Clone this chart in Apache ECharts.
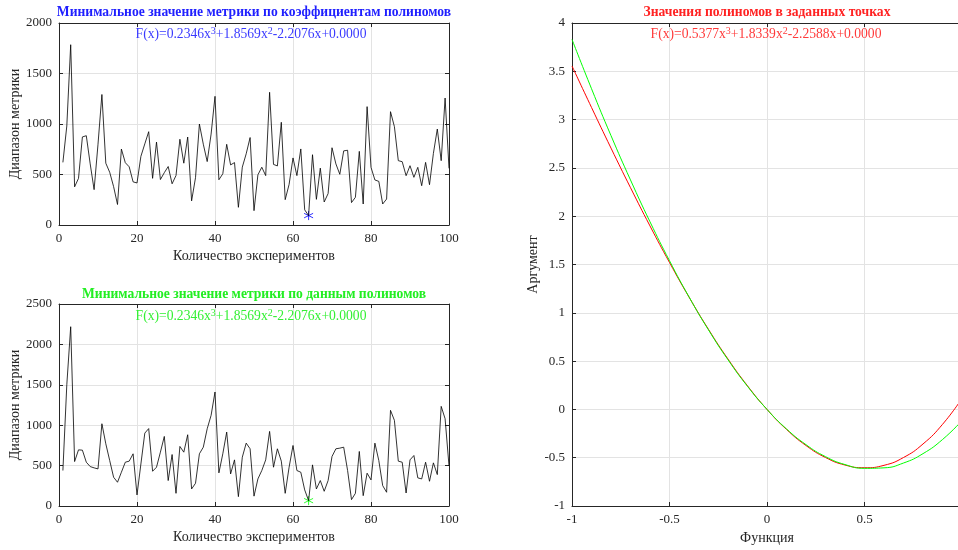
<!DOCTYPE html>
<html>
<head>
<meta charset="utf-8">
<script src="https://cdn.jsdelivr.net/npm/echarts@6/dist/echarts.min.js"></script>
<style>
  html, body { margin: 0; padding: 0; background: #fff; }
  #chart { width: 958px; height: 550px; }
</style>
</head>
<body>
<div id="chart"></div>
<script>
// метрика по коэффициентам полиномов (эксперименты 1..100)
const coefMetric = [
  620, 980, 1785, 378, 462, 872, 884, 605, 350, 800,
  1292, 612, 522, 380, 203, 752, 617, 576, 427, 416,
  680, 803, 924, 462, 821, 450, 518, 579, 408, 490,
  849, 612, 871, 239, 468, 1000, 800, 628, 900, 1274,
  448, 507, 799, 595, 618, 175, 573, 705, 866, 142,
  497, 572, 489, 1314, 600, 585, 1017, 251, 402, 664,
  489, 753, 150, 93, 696, 254, 563, 228, 311, 765,
  605, 502, 734, 740, 222, 274, 729, 208, 1172, 571,
  446, 432, 208, 257, 1122, 974, 637, 627, 488, 587,
  472, 571, 389, 620, 399, 709, 950, 637, 1257, 561
];

// метрика по данным полиномов
const dataMetric = [
  439, 1500, 2219, 550, 695, 691, 542, 488, 472, 459,
  1018, 770, 563, 356, 294, 418, 542, 555, 646, 137,
  520, 902, 958, 430, 480, 666, 861, 315, 637, 157,
  737, 666, 882, 211, 281, 646, 728, 956, 1122, 1411,
  410, 646, 915, 397, 571, 116, 604, 778, 708, 122,
  335, 439, 571, 923, 480, 708, 555, 157, 480, 749,
  439, 418, 199, 66, 509, 211, 315, 182, 315, 613,
  708, 716, 728, 439, 79, 157, 675, 128, 406, 323,
  778, 563, 252, 170, 1184, 1060, 555, 542, 161, 571,
  625, 348, 335, 542, 306, 534, 389, 1233, 1080, 497
];

const bestCoef = [64, 93];
const bestData = [64, 66];

// значения полиномов в заданных точках
const argX = [-1, -0.9, -0.8, -0.7, -0.6, -0.5, -0.4, -0.3, -0.2, -0.1, 0,
  0.1, 0.2, 0.3, 0.4, 0.5, 0.6, 0.7, 0.8, 0.9, 1];
const redY = [3.555, 3.126, 2.705, 2.295, 1.899, 1.521, 1.163, 0.828, 0.521, 0.244, 0,
  -0.207, -0.374, -0.498, -0.576, -0.604, -0.579, -0.498, -0.358, -0.155, 0.113];
const greenY = [3.830, 3.320, 2.834, 2.375, 1.942, 1.539, 1.165, 0.823, 0.514, 0.239, 0,
  -0.202, -0.365, -0.489, -0.571, -0.610, -0.605, -0.555, -0.458, -0.312, -0.116];

const FONT = "Liberation Serif";
const AX = "#262626";

const chart = echarts.init(document.getElementById("chart"));

const pairs = (xs, ys) => ys.map((v, i) => [xs[i], v]);
const idx = coefMetric.map((v, i) => i + 1);

const asterisk = "path://M0,-5L0,5M-4.33,-2.5L4.33,2.5M-4.33,2.5L4.33,-2.5";

const plain = (v) => String(v);

function mainAxis(grid, min, max, interval, name, gap) {
  return {
    type: "value", gridIndex: grid, min, max, interval,
    name, nameLocation: "middle", nameGap: gap,
    nameTextStyle: { fontFamily: FONT, fontSize: 14, color: AX },
    axisLine: { show: true, onZero: false, lineStyle: { color: AX, width: 1 } },
    axisTick: { show: true, inside: true, length: 4, lineStyle: { color: AX } },
    axisLabel: { fontFamily: FONT, fontSize: 13, color: AX, margin: 7, formatter: plain },
    splitLine: { show: true, lineStyle: { color: "#e3e3e3" } }
  };
}
function mirror(grid, min, max, interval, position) {
  return {
    type: "value", gridIndex: grid, min, max, interval, position,
    axisLine: { show: true, onZero: false, lineStyle: { color: AX, width: 1 } },
    axisTick: { show: true, inside: true, length: 4, lineStyle: { color: AX } },
    axisLabel: { show: false },
    splitLine: { show: false }
  };
}

function titleAt(x, y, text, color, bold) {
  return {
    text, left: x, top: y, textAlign: "center", padding: 0,
    textStyle: {
      fontFamily: FONT, fontSize: 13.6, color,
      fontWeight: bold ? "bold" : "normal",
      rich: { s: { fontFamily: FONT, fontSize: 10, color, verticalAlign: "top", padding: [0, 0, 6, 0] } }
    }
  };
}

const option = {
  animation: false,
  backgroundColor: "#fff",
  title: [
    titleAt(254, 5, "Минимальное значение метрики по коэффициентам полиномов", "#1f1fff", true),
    titleAt(251, 26, "F(x)=0.2346x{s|3}+1.8569x{s|2}-2.2076x+0.0000", "#3a3aff", false),
    titleAt(254, 287, "Минимальное значение метрики по данным полиномов", "#22ee22", true),
    titleAt(251, 308, "F(x)=0.2346x{s|3}+1.8569x{s|2}-2.2076x+0.0000", "#33f033", false),
    titleAt(767, 5, "Значения полиномов в заданных точках", "#ff2222", true),
    titleAt(766, 26, "F(x)=0.5377x{s|3}+1.8339x{s|2}-2.2588x+0.0000", "#ff3a3a", false)
  ],
  grid: [
    { left: 59, top: 23, width: 390, height: 202, outerBoundsMode: "none" },
    { left: 59, top: 304, width: 390, height: 202, outerBoundsMode: "none" },
    { left: 572, top: 23, width: 390, height: 483, outerBoundsMode: "none" }
  ],
  xAxis: [
    mainAxis(0, 0, 100, 20, "Количество экспериментов", 24),
    mainAxis(1, 0, 100, 20, "Количество экспериментов", 24),
    mainAxis(2, -1, 1, 0.5, "Функция", 24),
    mirror(0, 0, 100, 20, "top"),
    mirror(1, 0, 100, 20, "top"),
    mirror(2, -1, 1, 0.5, "top")
  ],
  yAxis: [
    mainAxis(0, 0, 2000, 500, "Диапазон метрики", 29),
    mainAxis(1, 0, 2500, 500, "Диапазон метрики", 29),
    mainAxis(2, -1, 4, 0.5, "Аргумент", 20),
    mirror(0, 0, 2000, 500, "right"),
    mirror(1, 0, 2500, 500, "right"),
    mirror(2, -1, 4, 0.5, "right")
  ],
  series: [
    {
      type: "line", xAxisIndex: 0, yAxisIndex: 0, data: pairs(idx, coefMetric),
      symbol: "none", lineStyle: { color: "#000", width: 0.8 }
    },
    {
      type: "scatter", xAxisIndex: 0, yAxisIndex: 0, data: [bestCoef],
      symbol: asterisk, symbolSize: 9,
      itemStyle: { color: "rgba(0,0,0,0)", borderColor: "#0000ff", borderWidth: 1 }
    },
    {
      type: "line", xAxisIndex: 1, yAxisIndex: 1, data: pairs(idx, dataMetric),
      symbol: "none", lineStyle: { color: "#000", width: 0.8 }
    },
    {
      type: "scatter", xAxisIndex: 1, yAxisIndex: 1, data: [bestData],
      symbol: asterisk, symbolSize: 9,
      itemStyle: { color: "rgba(0,0,0,0)", borderColor: "#00ff00", borderWidth: 1 }
    },
    {
      type: "line", xAxisIndex: 2, yAxisIndex: 2, data: pairs(argX, redY),
      symbol: "none", smooth: true, lineStyle: { color: "#ff0000", width: 1 }
    },
    {
      type: "line", xAxisIndex: 2, yAxisIndex: 2, data: pairs(argX, greenY),
      symbol: "none", smooth: true, lineStyle: { color: "#00ff00", width: 1 }
    }
  ]
};

chart.setOption(option);
</script>
</body>
</html>
